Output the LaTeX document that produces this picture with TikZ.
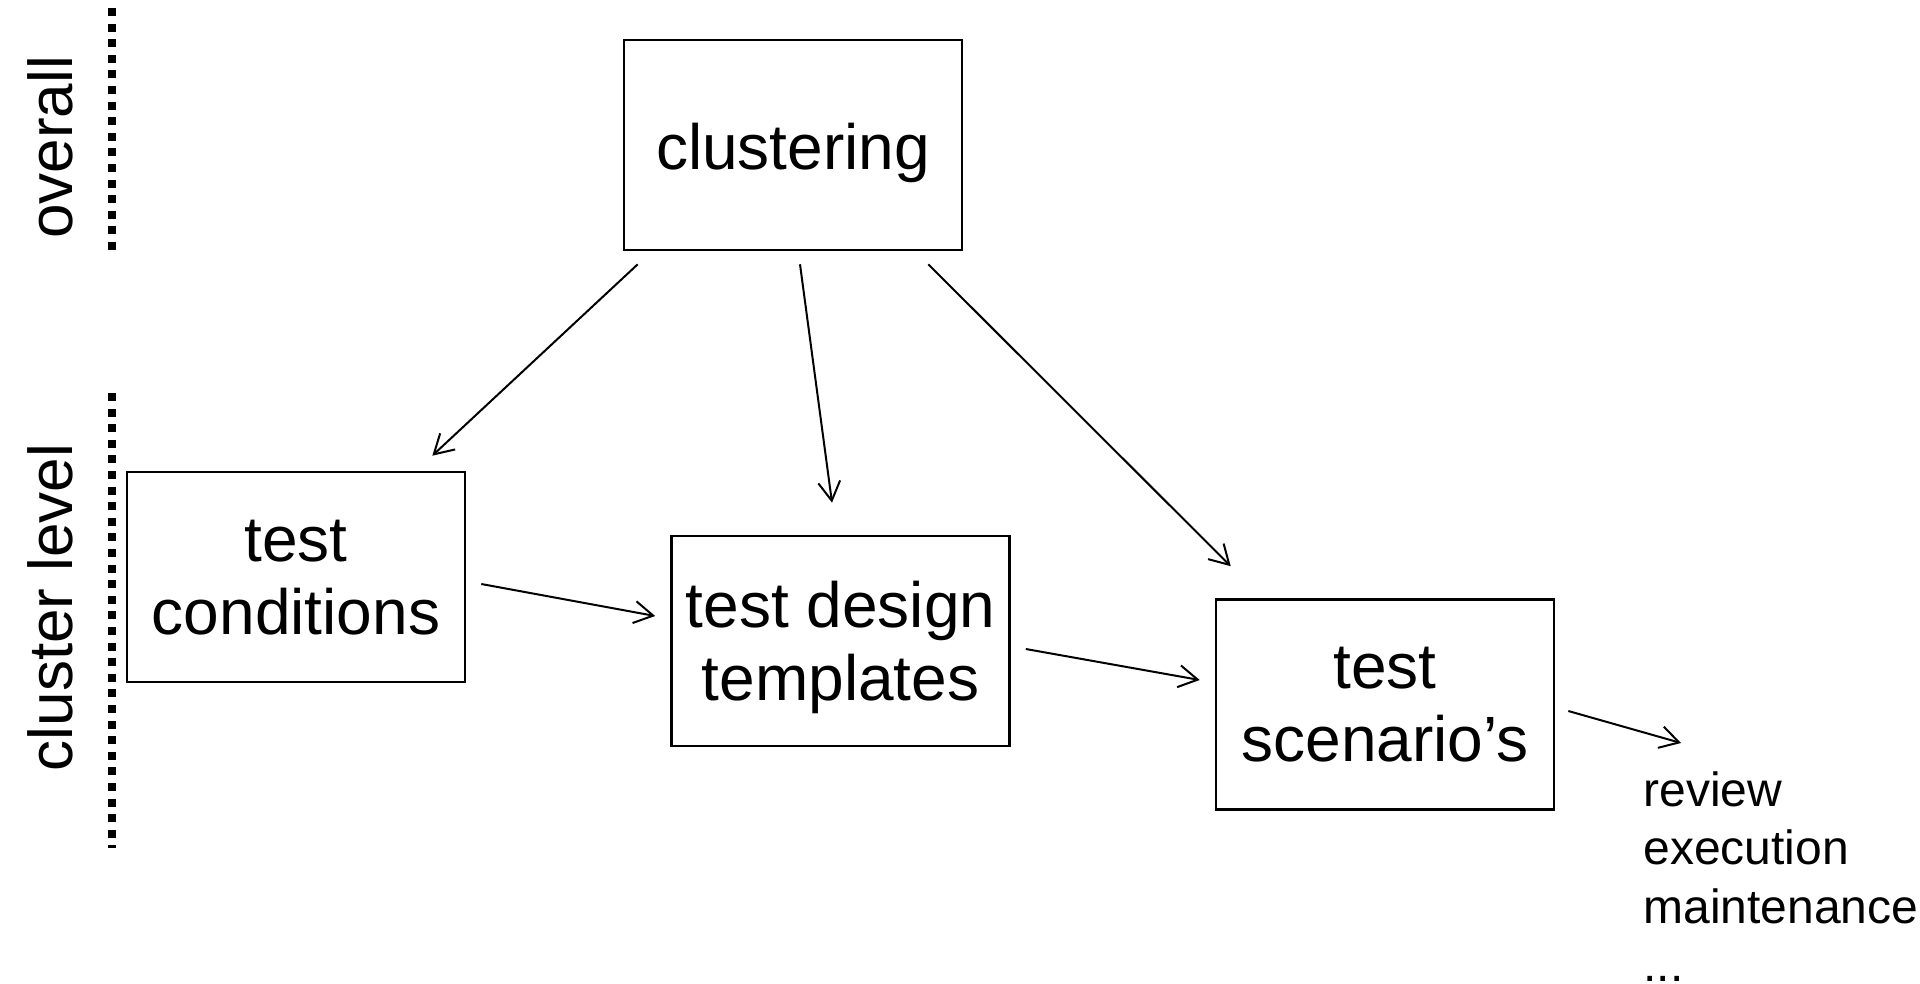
\documentclass[tikz,border=0pt]{standalone}
\usepackage{fontspec}
\setmainfont{Liberation Sans}
\usetikzlibrary{arrows.meta}

\begin{document}
\begin{tikzpicture}[
			x=0.5pt, y=-0.5pt,
			box/.style={
					draw,
					line width=1.3pt,
					align=center,
					inner sep=0pt,
					font=\fontsize{32}{36.5}\selectfont,
					text depth=0pt,
					execute at begin node={\rule{0pt}{25pt}},
					minimum width=169pt,
					minimum height=105pt
				},
			link/.style={draw, line width=1pt, -{Straight Barb[length=9.5pt, width=11pt]}},
			levelline/.style={draw, line width=4pt, dash pattern=on 4pt off 3.8pt},
			levelname/.style={rotate=90, anchor=base, inner sep=0pt, font=\fontsize{31}{36}\selectfont},
			after/.style={anchor=north west, inner sep=0pt, align=left, font=\fontsize{24}{29.25}\selectfont}
		]
		\useasboundingbox (0,0) rectangle (1920,984);

		% levels
		\draw[levelline] (112,8) -- (112,255);
		\draw[levelline] (112,393) -- (112,848);
		\node[levelname] (overall) at (72,147.5) {overall};
		\node[levelname] (clevel) at (72,607.5) {cluster level};

		% boxes
		\node[box] (clust) at (793,145) {clustering};
		\node[box] (cond) at (296,577) {test \\ conditions};
		\node[box] (tdt) at (840.5,641) {test design \\ templates};
		\node[box] (scen) at (1385,704.5) {test \\ scenario’s};
		\node[after] (next) at (1643,771) {review \\ execution \\ maintenance \\ ...};

		% arrows
		\draw[link] ([shift={(15,13)}]clust.south west) -- ([shift={(-34,-15)}]cond.north east);
		\draw[link] ([shift={(7,13)}]clust.south) -- ([shift={(-8.5,-32)}]tdt.north);
		\draw[link] ([shift={(-35,13)}]clust.south east) -- ([shift={(16,-32)}]scen.north west);
		\draw[link] ([shift={(15,7)}]cond.east) -- ([shift={(-15,-25)}]tdt.west);
		\draw[link] ([shift={(15,8)}]tdt.east) -- ([shift={(-15,-24.5)}]scen.west);
		\draw[link] ([shift={(13,6.5)}]scen.east) -- ([shift={(38,-28)}]next.north west);
	\end{tikzpicture}
\end{document}
